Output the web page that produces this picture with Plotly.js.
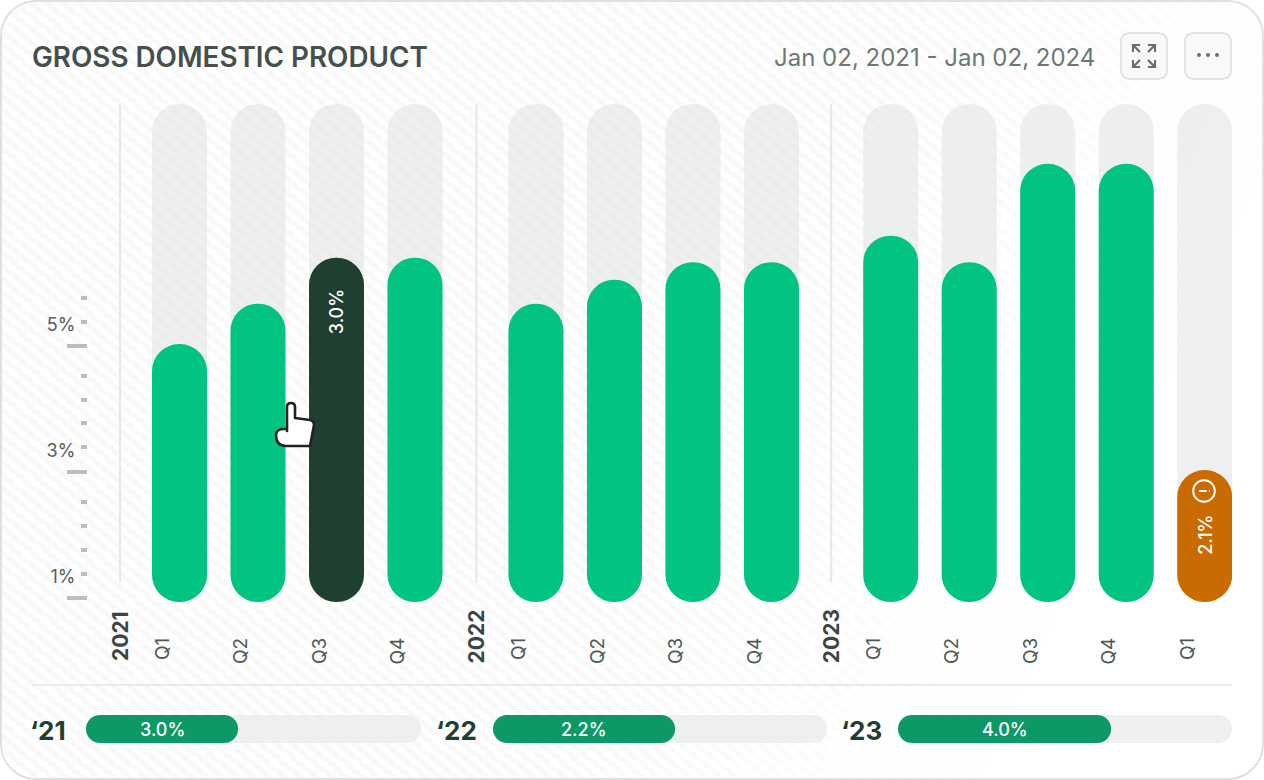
<!DOCTYPE html>
<html>
<head>
<meta charset="utf-8">
<script src="https://cdn.plot.ly/plotly-3.0.1.min.js"></script>
<style>
html,body{margin:0;padding:0;background:#fff;}
#card{position:absolute;left:0;top:0;width:1264px;height:780px;box-sizing:border-box;border:2.5px solid #dde1df;border-radius:36px;overflow:hidden;background:#fff;}
#stripes{position:absolute;inset:0;background:repeating-linear-gradient(40deg,#f8f9f8 0 5px,#ffffff 5px 10px);
-webkit-mask-image:linear-gradient(115deg,#000 0%,#000 55%,transparent 85%);mask-image:linear-gradient(115deg,#000 0%,#000 55%,transparent 85%);}
#chart{position:absolute;left:0;top:0;width:1264px;height:780px;}
</style>
</head>
<body>
<div id="card"><div id="stripes"></div></div>
<div id="chart"></div>
<script>
// ---- data ----
const quarters   = ['Q1','Q2','Q3','Q4','Q1','Q2','Q3','Q4','Q1','Q2','Q3','Q4','Q1'];
const groupIndex = [0,0,0,0,1,1,1,1,2,2,2,2,2];
const gdpValues  = [5.03,5.67,6.40,6.40,5.67,6.05,6.33,6.33,6.75,6.33,7.89,7.89,3.03];
const barKinds   = ['n','n','h','n','n','n','n','n','n','n','n','n','w'];
const years      = ['2021','2022','2023'];
const yearShort  = ['‘21','‘22','‘23'];
const yearShare  = [45.4,54.5,63.8];
const yearLabels = ['3.0%','2.2%','4.0%'];
const majorTicks = [1,3,5];
const majorText  = ['1%','3%','5%'];
const minorTicks = [1.386,1.77,2.15,2.53,3.39,3.77,4.15,4.53,5.386,5.767];
const barLabels  = {2:'3.0%',12:'2.1%'};

// ---- layout constants ----
const W=1264,H=780;
const px=x=>x/W, py=y=>1-y/H;
const unit=78.5;
const groupGap=[0,0.541,1.06];
const axisMin=0.937, axisMax=8.84;
const slots=quarters.map((q,i)=>i+groupGap[groupIndex[i]]);
const firstSlot=g=>slots[groupIndex.indexOf(g)];
const colorOf={n:'#00c480',h:'#1f3f30',w:'#c96b00'};
const barColors=barKinds.map(k=>colorOf[k]);
const track='rgba(222,226,224,0.5)';
const xMin=(88-179.5)/unit, xMax=(1232-179.5)/unit;

function pill(x,top,color,name){
  return {type:'bar',x:x,width:55/unit,y:top.map(v=>v-axisMin),base:top.map(()=>axisMin),marker:{color:color,line:{width:0},cornerradius:27.5},hoverinfo:'skip',showlegend:false,name:name};
}
const traces=[
  pill(slots,slots.map(()=>axisMax),track,'range'),
  pill(slots,gdpValues,barColors,'GDP')
];
// yearly progress pills
function hpill(xa,v,color,r){
  return {type:'bar',orientation:'h',xaxis:xa,yaxis:'y2',y:[0],width:1,base:[0],x:[v],marker:{color:color,line:{width:0},cornerradius:r},hoverinfo:'skip',showlegend:false};
}
['x2','x3','x4'].forEach((xa,i)=>{
  traces.push(hpill(xa,100,'#eef0ef',14));
  traces.push(hpill(xa,yearShare[i],'#0d9966',14));
});

const shapes=[];
years.forEach((y,g)=>{
  const xd=firstSlot(g)-0.758;
  shapes.push({type:'line',xref:'x',yref:'y',x0:xd,x1:xd,y0:1.25,y1:axisMax,line:{color:'#e6e8e7',width:2},layer:'below'});
});
shapes.push({type:'line',xref:'paper',yref:'paper',x0:px(32),x1:px(1232),y0:py(685),y1:py(685),line:{color:'#e8ebea',width:2}});

const annotations=[];
const font='Inter, sans-serif';
years.forEach((y,g)=>{
  annotations.push({text:y,xref:'x',yref:'paper',x:firstSlot(g)-0.758,y:py(636),xanchor:'center',yanchor:'middle',textangle:-90,showarrow:false,font:{family:font,size:21,weight:700,color:'#3b4541'}});
});
Object.keys(barLabels).forEach(k=>{
  const i=+k;
  annotations.push({text:barLabels[k],xref:'x',yref:'y',x:slots[i],y:gdpValues[i],yshift:i===12?-65:-54,xanchor:'center',yanchor:'middle',textangle:-90,showarrow:false,font:{family:font,size:18,weight:500,color:'#ffffff'}});
});
['x2','x3','x4'].forEach((xa,i)=>{
  annotations.push({text:yearLabels[i],xref:xa,yref:'y2',x:yearShare[i]/2,y:0,xanchor:'center',yanchor:'middle',showarrow:false,font:{family:font,size:18,weight:500,color:'#ffffff'}});
});
[28,434,839].forEach((x,i)=>{
  annotations.push({text:yearShort[i],xref:'paper',yref:'paper',x:px(x),y:py(730),xanchor:'left',yanchor:'middle',showarrow:false,font:{family:font,size:26,weight:700,color:'#1f3f30'}});
});
annotations.push({text:'Jan 02, 2021 - Jan 02, 2024',xref:'paper',yref:'paper',x:px(1097),y:py(58),xanchor:'right',yanchor:'middle',showarrow:false,font:{family:font,size:24,color:'#6c7873'}});

const svg=s=>'data:image/svg+xml;utf8,'+encodeURIComponent(s);
const btn=(inner)=>svg('<svg xmlns="http://www.w3.org/2000/svg" viewBox="0 0 48 48" width="48" height="48"><rect x="1" y="1" width="46" height="46" rx="8" fill="#f8f9f8" stroke="#dfe3e1" stroke-width="2"/>'+inner+'</svg>');
const arrows='<g fill="none" stroke="#65716c" stroke-width="2.2"><path d="M13 20V13H20M13 13L20 20"/><path d="M35 20V13H28M35 13L28 20"/><path d="M13 28V35H20M13 35L20 28"/><path d="M35 28V35H28M35 35L28 28"/></g>';
const dots='<g fill="#65716c"><circle cx="15" cy="23" r="2"/><circle cx="24" cy="23" r="2"/><circle cx="33" cy="23" r="2"/></g>';
const hand=svg('<svg xmlns="http://www.w3.org/2000/svg" viewBox="272 400 46 50" width="46" height="50"><path d="M287 429 L282 429 Q276 430 276 435 Q276 446 286 446 L310 446 L314 425 Q314 421 310 420 L295 418 L295 407 Q295 403 291 403 Q287 403 287 407 L287 431" fill="#fff" stroke="#222" stroke-width="2.6" stroke-linejoin="round" stroke-linecap="round"/></svg>');
const info=svg('<svg xmlns="http://www.w3.org/2000/svg" viewBox="0 0 24 24" width="24" height="24"><circle cx="12" cy="12" r="10" fill="none" stroke="#fff" stroke-width="1.8"/><path d="M7.5 12H14.5M16.5 12H17.5" stroke="#fff" stroke-width="1.8" /></svg>');
const img=(src,x,y,w,h)=>({source:src,xref:'paper',yref:'paper',x:px(x),y:py(y),sizex:w/W,sizey:h/H,xanchor:'left',yanchor:'top',sizing:'stretch',layer:'above'});
const images=[img(btn(arrows),1120,32,48,48),img(btn(dots),1184,32,48,48),img(hand,272,400,46,50),img(info,1191,478,26,26)];

const hiddenX=(dom,anchor)=>({domain:[px(dom[0]),px(dom[1])],range:[0,100],visible:false,anchor:anchor,fixedrange:true});
const layout={
  width:W,height:H,margin:{l:0,r:0,t:0,b:0,autoexpand:false},
  paper_bgcolor:'rgba(0,0,0,0)',plot_bgcolor:'rgba(0,0,0,0)',
  barmode:'overlay',showlegend:false,font:{family:font},
  title:{text:'GROSS DOMESTIC PRODUCT',xref:'paper',yref:'paper',x:px(32),y:py(57),xanchor:'left',yanchor:'middle',font:{family:font,size:27.8,weight:600,color:'#454f4b'}},
  xaxis:{domain:[px(88),px(1232)],range:[xMin,xMax],tickmode:'array',tickvals:slots,ticktext:quarters,tickangle:-90,ticks:'',showgrid:false,zeroline:false,showline:false,ticklabelshift:-17,ticklabelstandoff:31,tickfont:{family:font,size:19,color:'#4e5855'},automargin:false,fixedrange:true},
  yaxis:{domain:[py(602),py(104)],range:[axisMin,axisMax],tickmode:'array',tickvals:majorTicks,ticktext:majorText,ticks:'outside',ticklen:20,tickwidth:4,tickcolor:'#b8c0bb',showgrid:false,zeroline:false,showline:false,ticklabelshift:-21,ticklabelstandoff:-12,tickfont:{family:font,size:18,color:'#55605b'},automargin:false,fixedrange:true,
    minor:{tickmode:'array',tickvals:minorTicks,ticks:'outside',ticklen:6,tickwidth:4,tickcolor:'#b8c0bb',showgrid:false}},
  xaxis2:hiddenX([86,421],'y2'),xaxis3:hiddenX([493,827],'y2'),xaxis4:hiddenX([898,1232],'y2'),
  yaxis2:{domain:[py(743),py(715)],range:[-0.5,0.5],visible:false,anchor:'x2',fixedrange:true},
  shapes:shapes,annotations:annotations,images:images
};
Plotly.newPlot('chart',traces,layout,{displayModeBar:false,staticPlot:true});
</script>
</body>
</html>
